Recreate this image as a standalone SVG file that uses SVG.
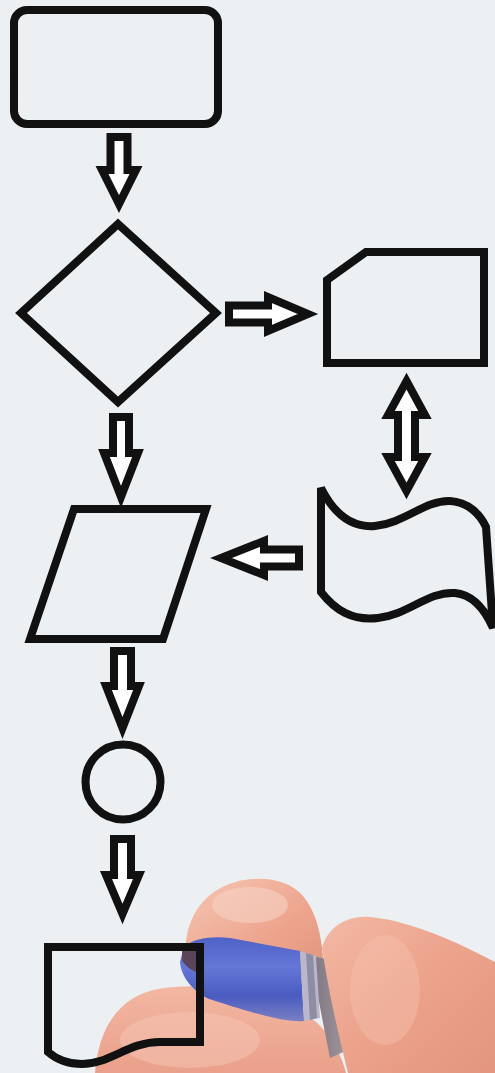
<svg xmlns="http://www.w3.org/2000/svg" width="495" height="1073" viewBox="0 0 495 1073">
<defs>
<style>
.node{fill:none;stroke:#111;stroke-width:8;stroke-linejoin:miter}
.arr{fill:#fff;stroke:#111;stroke-width:8;stroke-linejoin:miter;stroke-miterlimit:10}
</style>
<linearGradient id="skinA" x1="0" y1="0" x2="1" y2="1">
<stop offset="0" stop-color="#f6c6b3"/><stop offset="0.6" stop-color="#eda48d"/><stop offset="1" stop-color="#e0937c"/>
</linearGradient>
<linearGradient id="skinB" x1="0" y1="0" x2="1" y2="1">
<stop offset="0" stop-color="#f3b9a4"/><stop offset="0.5" stop-color="#eca28b"/><stop offset="1" stop-color="#e3957f"/>
</linearGradient>
<linearGradient id="skinC" x1="0" y1="0" x2="0" y2="1">
<stop offset="0" stop-color="#f2b7a2"/><stop offset="1" stop-color="#eaa08a"/>
</linearGradient>
<linearGradient id="cap" x1="0" y1="0" x2="0" y2="1">
<stop offset="0" stop-color="#4f62c6"/><stop offset="0.35" stop-color="#6476d6"/><stop offset="0.7" stop-color="#4a5cc0"/><stop offset="1" stop-color="#7a7fc4"/>
</linearGradient>
<linearGradient id="body" x1="0" y1="0" x2="1" y2="0">
<stop offset="0" stop-color="#7d7480"/><stop offset="1" stop-color="#a39aa0"/>
</linearGradient>
</defs>
<rect width="495" height="1073" fill="#edf0f3"/>

<g id="hand">
<path id="middle-finger" d="M186,962 C182,926 198,896 229,884 C256,874 288,878 303,896 C317,913 321,935 323,958 L300,978 Z" fill="url(#skinA)"/>
<ellipse cx="250" cy="905" rx="38" ry="18" fill="#f7d2c4" opacity="0.6"/>
<path id="thumb" d="M95,1073 C98,1032 116,997 158,989 C205,981 250,992 295,1008 C325,1022 340,1050 346,1073 Z" fill="url(#skinC)"/>
<ellipse cx="190" cy="1040" rx="70" ry="28" fill="#f5c5b5" opacity="0.5"/>
<path id="pen-body" d="M310,956 L333,960 L352,1048 L330,1058 Z" fill="url(#body)"/>
<path id="index-finger" d="M322,948 C328,926 348,915 370,917 C402,920 442,934 495,962 L495,1073 L348,1073 C340,1040 330,1000 322,948 Z" fill="url(#skinB)"/>
<ellipse cx="385" cy="990" rx="35" ry="55" fill="#f4c1ae" opacity="0.45"/>
<path id="pen-cap" d="M184,947 C194,938 212,936 230,938 L300,951 L304,1021 C280,1023 235,1007 209,999 C193,991 181,977 180,962 Z" fill="url(#cap)"/>
<path d="M300,951 L316,956 L320,1018 L304,1021 Z" fill="#b9b7c9"/>
<path d="M306,953 L313,955 L317,1018 L310,1020 Z" fill="#8f8da6"/>
<path d="M182,950 C188,944 196,943 203,945 L204,972 C196,974 186,968 182,960 Z" fill="#5b3d45" opacity="0.85"/>
</g>

<g id="n1-terminal"><rect class="node" x="14" y="10" width="204" height="114" rx="13"/></g>
<g id="n2-decision"><polygon class="node" points="118,224 216,313 118,402 21,313"/></g>
<g id="n3-card"><polygon class="node" points="366,252 484,252 484,363 327,363 327,280"/></g>
<g id="n4-tape"><path class="node" d="M321,488 C333,512 350,528 375,526 C405,523 425,500 450,501 C468,502 480,514 486,527 L493,628 C486,612 475,595 455,593 C428,591 408,615 378,618 C352,621 335,610 321,592 Z"/></g>
<g id="n5-data"><polygon class="node" points="74,509 206,509 163,639 30,639"/></g>
<g id="n6-connector"><circle class="node" cx="123" cy="782" r="37.5"/></g>

<g id="connectors">
<polygon class="arr" points="110.5,137 127.5,137 127.5,170 136,170 119,204 102,170 110.5,170"/>
<polygon class="arr" points="113,417 129,417 129,453 138,453 121,497 104,453 113,453"/>
<polygon class="arr" points="114,651 131,651 131,686 139,686 122.5,728 106,686 114,686"/>
<polygon class="arr" points="114,839 131,839 131,875 139,875 122.5,914 106,875 114,875"/>
<polygon class="arr" points="229,305.5 268,305.5 268,297 308,314 268,331 268,322.5 229,322.5"/>
<polygon class="arr" points="299,549.5 264,549.5 264,541 221,558 264,575 264,566.5 299,566.5"/>
<polygon class="arr" points="406.5,381 425,415 415,415 415,457 425,457 406.5,491 388,457 398,457 398,415 388,415"/>
</g>

<g id="n7-document"><path class="node" d="M48,947 H200 V1042 H160 C128,1042 110,1064 82,1064 C66,1064 55,1058 48,1052 Z"/></g>
</svg>
